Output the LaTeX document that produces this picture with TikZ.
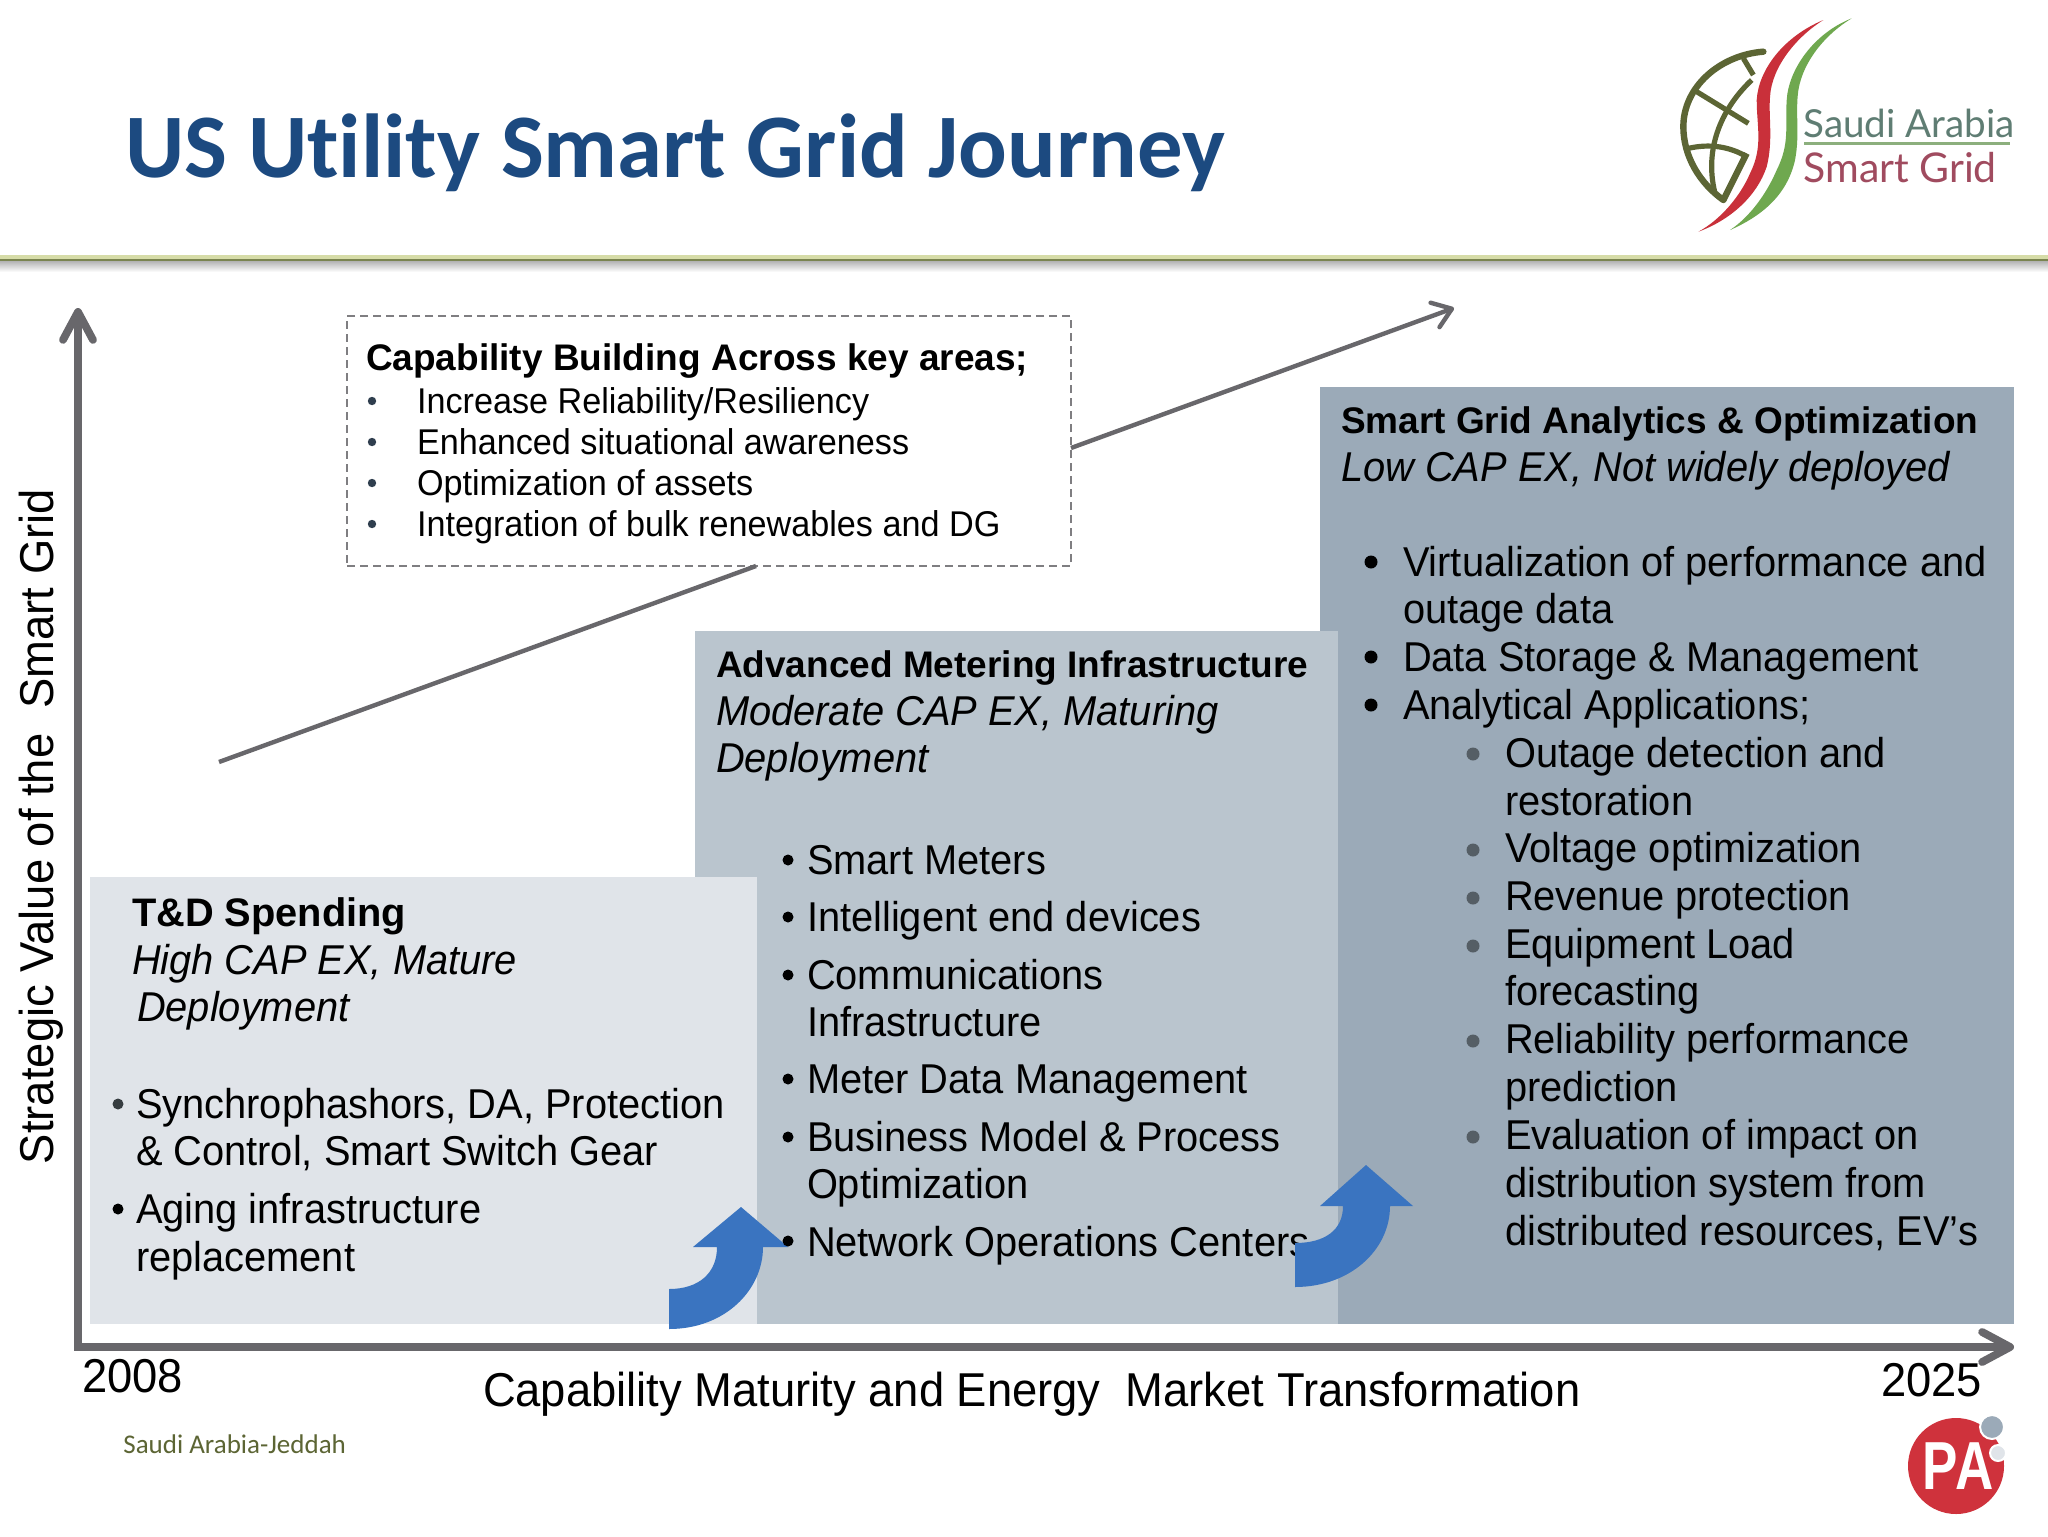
\documentclass[tikz,border=0pt]{standalone}
\usepackage{fontspec}
\setmainfont{Liberation Sans}
\newfontfamily\plainf[FakeStretch=0.955]{Liberation Sans}
\newfontfamily\carlito[Ligatures=NoCommon]{Carlito}
\newfontfamily\lato{Lato}
\usetikzlibrary{arrows.meta}
\definecolor{axisgray}{HTML}{68676B}
\definecolor{titleblue}{HTML}{1C4A80}
\definecolor{boxa}{HTML}{E0E4E9}
\definecolor{boxb}{HTML}{BAC5CE}
\definecolor{boxc}{HTML}{9BAAB8}
\definecolor{arrowblue}{HTML}{3A74C0}
\definecolor{olive}{HTML}{5C6534}
\definecolor{logored}{HTML}{C9303A}
\definecolor{logogreen}{HTML}{6FA84F}
\definecolor{parared}{HTML}{CF323C}
\definecolor{dotdark}{HTML}{2F3E4E}
\tikzset{
 x=0.5pt,y=-0.5pt,
 panel/.style={anchor=north west,inner sep=0pt,outer sep=0pt,draw=none},
 line/.style={anchor=base west,inner sep=0pt,outer sep=0pt,font=\plainf\fontsize{20.85}{24}\selectfont,text=black},
 emline/.style={line,font=\plainf\itshape\fontsize{20.85}{24}\selectfont},
 headline/.style={line,font=\bfseries\fontsize{18.5}{24}\selectfont},
 axislabel/.style={line,font=\plainf\fontsize{23.75}{26}\selectfont},
 small/.style={anchor=base west,inner sep=0pt,outer sep=0pt,font=\plainf\fontsize{17.9}{21}\selectfont,text=black},
 dot/.style={circle,inner sep=0pt,outer sep=0pt,minimum size=#1},
 bigarrow/.style={fill=arrowblue,draw=none},
 axis/.style={draw=axisgray,line width=3.9pt,-{Straight Barb[length=14pt,width=15pt,round]}},
 trend/.style={draw=axisgray,line width=2.2pt},
}
\begin{document}
\begin{tikzpicture}
\useasboundingbox (0,0) rectangle (2048,1536);
\fill[white] (0,0) rectangle (2048,1536);
% header
\node[anchor=base west,inner sep=0pt,font=\carlito\bfseries\fontsize{45.4}{54}\selectfont,text=titleblue] (title) at (125,177) {US Utility Smart Grid Journey};
\shade[top color=gray!65,bottom color=white] (0,260) rectangle (2048,272);
\fill[color={rgb,255:red,214;green,220;blue,168}] (0,255) rectangle (2048,258.5);
\fill[color={rgb,255:red,122;green,132;blue,80}] (0,258.5) rectangle (2048,261);
% Saudi logo
\begin{scope}[xshift=820pt,yshift=0pt,x=0.1667pt,y=-0.1667pt]
 \draw[olive,line width=3.2pt,line cap=round] (370,155) .. controls (240,165) and (130,260) .. (130,380) .. controls (130,470) and (180,550) .. (250,600);
 \draw[olive,line width=3.2pt] (250,600) -- (320,460);
 \draw[olive,line width=2.6pt] (170,275) -- (325,370);
 \draw[olive,line width=2.6pt] (310,175) -- (340,225);
 \draw[olive,line width=2.6pt] (335,240) .. controls (250,320) and (190,440) .. (225,580);
 \draw[olive,line width=2.6pt] (145,445) .. controls (210,430) and (270,440) .. (320,470);
 \fill[logored] (550,60) .. controls (430,110) and (355,210) .. (350,300) .. controls (350,380) and (370,440) .. (330,520) .. controls (300,590) and (240,660) .. (175,695) .. controls (270,660) and (350,590) .. (380,500) .. controls (400,420) and (385,350) .. (390,290) .. controls (395,200) and (470,110) .. (550,60) -- cycle;
 \fill[logogreen] (635,55) .. controls (520,100) and (445,210) .. (440,300) .. controls (435,380) and (450,430) .. (410,510) .. controls (380,580) and (330,650) .. (270,690) .. controls (360,650) and (440,590) .. (465,480) .. controls (480,400) and (465,340) .. (475,270) .. controls (490,180) and (560,100) .. (635,55) -- cycle;
\end{scope}
\node[anchor=base west,inner sep=0pt,font=\lato\fontsize{19.3}{22}\selectfont,text={rgb,255:red,95;green,125;blue,115}] (lg1) at (1803,137) {Saudi Arabia};
\node[anchor=base west,inner sep=0pt,font=\lato\fontsize{20.5}{22}\selectfont,text={rgb,255:red,160;green,75;blue,95}] (lg2) at (1803,182) {Smart Grid};
\fill[color={rgb,255:red,140;green,175;blue,125}] (1804,141.5) rectangle (2010,145);
% panels
\node[panel,fill=boxc,minimum width=347pt,minimum height=468.5pt] (sg) at (1320,387) {};
\node[panel,fill=boxb,minimum width=321.5pt,minimum height=346.5pt] (ami) at (695,631) {};
\node[panel,fill=boxa,minimum width=333.5pt,minimum height=223.5pt] (td) at (90,877) {};
% axes
\coordinate (origin) at (78,1347);
\coordinate (ytop) at (78,308);
\coordinate (xend) at (2014,1347);
\draw[axis] ([yshift=-1.95pt]origin) -- (ytop);
\draw[axis] ([xshift=-1.95pt]origin) -- (xend);
% capability box
\node[panel,draw=axisgray!85,dashed,line width=0.9pt,minimum width=362pt,minimum height=125pt,dash pattern=on 4pt off 2.5pt] (cap) at (347,316) {};
\coordinate (t0) at (219,762);
\coordinate (t3) at (1454,308);
\draw[trend] (t0) -- ([xshift=204.5pt]cap.south west);
\draw[trend,-{Straight Barb[length=9pt,width=13pt,round]}] ([yshift=-3.5pt]cap.east) -- (t3);
\node[headline] (c0) at (366,370) {Capability Building Across key areas;};
\node[small] (c1) at (417,413) {Increase Reliability/Resiliency};
\node[small] (c2) at (417,454) {Enhanced situational awareness};
\node[small] (c3) at (417,495) {Optimization of assets};
\node[small] (c4) at (417,536) {Integration of bulk renewables and DG};
\foreach \n/\y in {d1/401,d2/442,d3/483,d4/524}{\node[dot=4.2pt,fill=dotdark] (\n) at (372,\y) {};}
% T&D
\node[headline,font=\bfseries\fontsize{19.9}{24}\selectfont] (a0) at (132,926) {T\&D Spending};
\node[emline] (a1) at (132,974) {High CAP EX, Mature};
\node[emline] (a2) at (137,1021) {Deployment};
\node[line] (a3) at (136,1118) {Synchrophashors, DA, Protection};
\node[line] (a4) at (136,1165) {\& Control, Smart Switch Gear};
\node[line] (a5) at (136,1223) {Aging infrastructure};
\node[line] (a6) at (136,1271) {replacement};
\node[dot=5.5pt,fill=black!65!boxc] (ad1) at (118,1104) {};
\node[dot=5.5pt,fill=black] (ad2) at (118,1209) {};
% arrow 1
\fill[bigarrow] (669,1289) .. controls (700,1289) and (717,1272) .. (717,1247) -- (693,1247) -- (741,1207) -- (788,1247) -- (763,1247) .. controls (763,1290) and (725,1329) .. (669,1329) -- cycle;
% AMI text
\node[headline] (b0) at (716,677) {Advanced Metering Infrastructure};
\node[emline] (b1) at (716,725) {Moderate CAP EX, Maturing};
\node[emline] (b2) at (716,772) {Deployment};
\node[line] (b3) at (807,874) {Smart Meters};
\node[line] (b4) at (807,931) {Intelligent end devices};
\node[line] (b5) at (807,989) {Communications};
\node[line] (b6) at (807,1036) {Infrastructure};
\node[line] (b7) at (807,1093) {Meter Data Management};
\node[line] (b8) at (807,1151) {Business Model \& Process};
\node[line] (b9) at (807,1198) {Optimization};
\node[line] (b10) at (807,1256) {Network Operations Centers};
\foreach \n/\y in {bd1/860,bd2/917,bd3/975,bd4/1079,bd5/1137,bd6/1241}{\node[dot=5.5pt,fill=black] (\n) at (788,\y) {};}
% arrow 2
\fill[bigarrow] (1295,1243) .. controls (1325,1243) and (1343,1230) .. (1343,1206) -- (1320,1206) -- (1366,1165) -- (1413,1206) -- (1390,1206) .. controls (1390,1250) and (1350,1287) .. (1295,1287) -- cycle;
% SG text
\node[headline] (s0) at (1341,433) {Smart Grid Analytics \& Optimization};
\node[emline] (s1) at (1341,481) {Low CAP EX, Not widely deployed};
\node[line] (s2) at (1403,576) {Virtualization of performance and};
\node[line] (s3) at (1403,623) {outage data};
\node[line] (s4) at (1403,671) {Data Storage \& Management};
\node[line] (s5) at (1403,719) {Analytical Applications;};
\node[line] (s6) at (1505,767) {Outage detection and};
\node[line] (s7) at (1505,815) {restoration};
\node[line] (s8) at (1505,862) {Voltage optimization};
\node[line] (s9) at (1505,910) {Revenue protection};
\node[line] (s10) at (1505,958) {Equipment Load};
\node[line] (s11) at (1505,1005) {forecasting};
\node[line] (s12) at (1505,1053) {Reliability performance};
\node[line] (s13) at (1505,1101) {prediction};
\node[line] (s14) at (1505,1149) {Evaluation of impact on};
\node[line] (s15) at (1505,1197) {distribution system from};
\node[line] (s16) at (1505,1245) {distributed resources, EV’s};
\foreach \n/\y in {sd1/562,sd2/657,sd3/705}{\node[dot=6.5pt,fill=black] (\n) at (1371,\y) {};}
\foreach \n/\y in {ss1/754,ss2/850,ss3/898,ss4/946,ss5/1041,ss6/1137}{\node[dot=6.5pt,fill=black!45!boxc] (\n) at (1473,\y) {};}
% axis labels
\node[axislabel,rotate=90] (yl) at (54,1164) {Strategic Value of the\ \ Smart Grid};
\node[axislabel] (y0) at (82,1392) {2008};
\node[axislabel] (y1) at (1881,1396) {2025};
\node[axislabel] (xl) at (483,1406) {Capability Maturity and Energy\ \ Market Transformation};
\node[anchor=base west,inner sep=0pt,font=\carlito\fontsize{13.5}{15}\selectfont,text=olive] (jed) at (123,1453) {Saudi Arabia-Jeddah};
% PA logo
\node[circle,fill=parared,minimum size=48pt,inner sep=0pt] (pa) at (1956,1466) {};
\node[circle,fill=boxc,draw=white,line width=1pt,minimum size=12pt,inner sep=0pt] (pa1) at (1992,1427) {};
\node[circle,fill=boxa,draw=white,line width=1pt,minimum size=8pt,inner sep=0pt] (pa2) at (1998,1453) {};
\node[anchor=base,inner sep=0pt,xscale=0.78,font=\bfseries\fontsize{34}{34}\selectfont,text=white] (patext) at (1958,1489) {P\kern-0.06em A};
\end{tikzpicture}
\end{document}
